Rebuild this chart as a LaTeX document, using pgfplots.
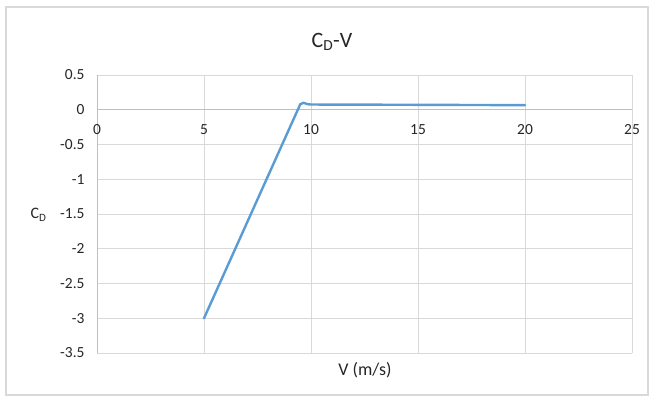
\documentclass[border=0pt]{standalone}
\usepackage{fontspec}
\setmainfont{Carlito}
\usepackage{pgfplots}
\pgfplotsset{compat=1.18}
\definecolor{gridgray}{HTML}{D9D9D9}
\definecolor{axgray}{HTML}{BFBFBF}
\definecolor{xlblue}{HTML}{5B9BD5}
\definecolor{txt}{HTML}{262626}
\begin{document}
\begin{tikzpicture}[x=1bp,y=1bp]
\useasboundingbox (0,0) rectangle (653,401);
\draw[color=gridgray, line width=1.2bp] (6,6) rectangle (648,394);
\node[anchor=base, text=txt, font=\fontsize{22}{24}\selectfont] at (332,354) {C\textsubscript{D}-V};
\node[text=txt, font=\fontsize{16}{18}\selectfont] at (38.5,186) {C\textsubscript{D}};
\node[text=txt, font=\fontsize{18}{20}\selectfont] at (365,31) {V (m/s)};
\begin{axis}[
  at={(97bp,48bp)}, anchor=south west,
  scale only axis, width=535bp, height=278bp,
  xmin=0, xmax=25, ymin=-3.5, ymax=0.5,
  xtick={0,5,...,25}, ytick={-3.5,-3,...,0.5},
  axis x line=middle, axis y line=left,
  axis line style={-, color=axgray, line width=0.8bp},
  hide obscured x ticks=false,
  grid=major, grid style={gridgray, line width=0.75bp},
  major tick length=0pt,
  tick label style={text=txt, font=\fontsize{15.5}{17}\selectfont},
  /pgf/number format/assume math mode=true,
  xticklabel style={anchor=north, yshift=-11bp},
  yticklabel style={anchor=east, xshift=-9bp},
  clip=false,
]
\addplot[xlblue, line width=2.4bp, line join=round, line cap=round] coordinates {
  (5,-3) (9.5,0.08) (9.65,0.1) (9.85,0.08) (10,0.075) (12,0.074) (14,0.072) (16,0.07) (18,0.068) (20,0.066)
};
\end{axis}
\end{tikzpicture}
\end{document}
